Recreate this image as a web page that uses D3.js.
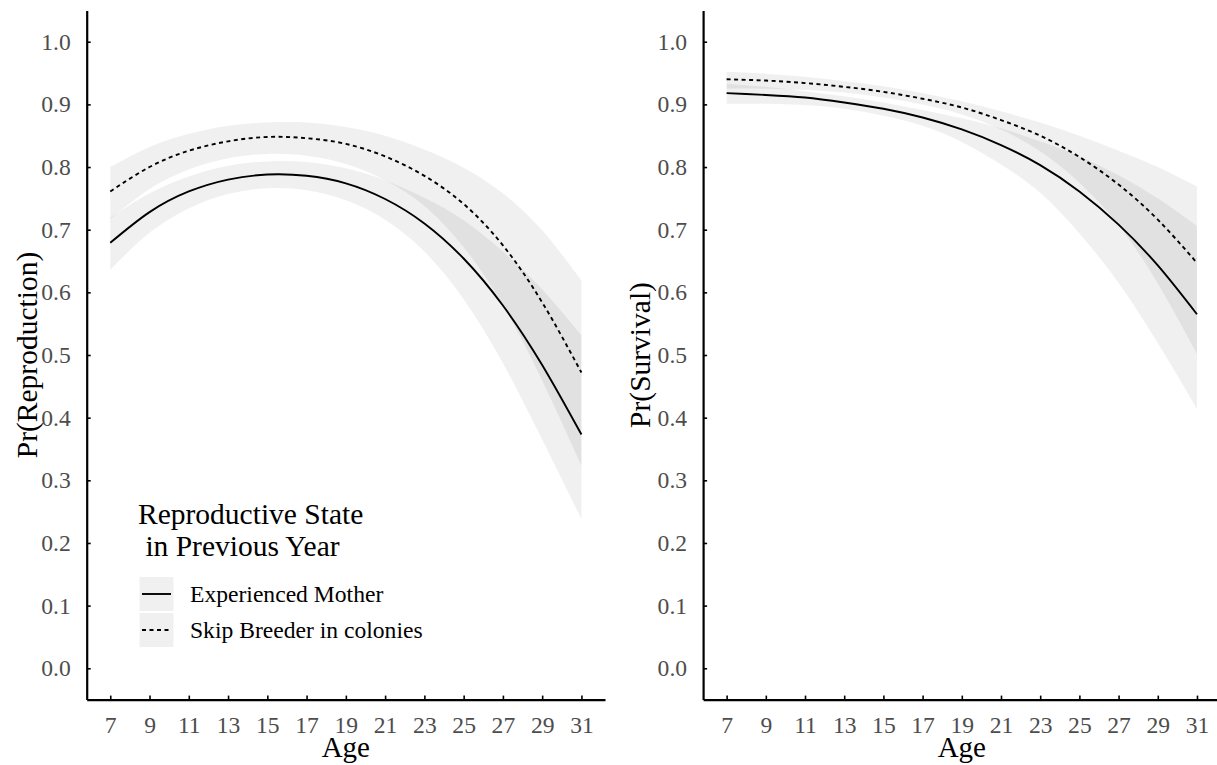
<!DOCTYPE html>
<html>
<head>
<meta charset="utf-8">
<script src="https://cdn.jsdelivr.net/npm/d3@7"></script>
<style>
  html, body { margin: 0; padding: 0; background: #ffffff; }
  svg { display: block; font-family: "Liberation Serif", "Times New Roman", serif; }
</style>
</head>
<body>
<svg id="chart" width="1217" height="765"></svg>
<script>
// ---------------- data ----------------
const ages = [7, 9, 11, 13, 15, 17, 19, 21, 23, 25, 27, 29, 31];
const xTicks = [7, 9, 11, 13, 15, 17, 19, 21, 23, 25, 27, 29, 31];
const yTicks = [0, 0.1, 0.2, 0.3, 0.4, 0.5, 0.6, 0.7, 0.8, 0.9, 1.0];
const seriesNames = ["Experienced Mother", "Skip Breeder in colonies"];
const legendTitle = ["Reproductive State", " in Previous Year"];

// Pr(Reproduction)
const reproExpFit  = [0.679, 0.728, 0.761, 0.780, 0.788, 0.786, 0.774, 0.749, 0.710, 0.654, 0.579, 0.484, 0.373];
const reproExpLo   = [0.636, 0.695, 0.734, 0.757, 0.766, 0.763, 0.747, 0.716, 0.665, 0.589, 0.487, 0.365, 0.238];
const reproExpHi   = [0.719, 0.758, 0.785, 0.802, 0.809, 0.808, 0.798, 0.779, 0.751, 0.715, 0.665, 0.605, 0.531];
const reproSkipFit = [0.761, 0.800, 0.826, 0.841, 0.848, 0.846, 0.837, 0.817, 0.786, 0.741, 0.675, 0.584, 0.472];
const reproSkipLo  = [0.717, 0.765, 0.796, 0.814, 0.821, 0.818, 0.805, 0.779, 0.738, 0.672, 0.580, 0.459, 0.323];
const reproSkipHi  = [0.800, 0.832, 0.853, 0.866, 0.871, 0.871, 0.864, 0.850, 0.828, 0.799, 0.758, 0.699, 0.619];

// Pr(Survival)
const survExpFit  = [0.918, 0.915, 0.911, 0.903, 0.893, 0.879, 0.860, 0.835, 0.803, 0.761, 0.708, 0.643, 0.565];
const survExpLo   = [0.901, 0.901, 0.899, 0.893, 0.882, 0.866, 0.840, 0.804, 0.759, 0.694, 0.615, 0.519, 0.414];
const survExpHi   = [0.933, 0.928, 0.921, 0.913, 0.903, 0.891, 0.878, 0.862, 0.841, 0.817, 0.787, 0.750, 0.706];
const survSkipFit = [0.940, 0.938, 0.934, 0.928, 0.920, 0.909, 0.895, 0.875, 0.850, 0.816, 0.772, 0.716, 0.647];
const survSkipLo  = [0.925, 0.925, 0.923, 0.919, 0.911, 0.900, 0.884, 0.860, 0.825, 0.775, 0.707, 0.614, 0.501];
const survSkipHi  = [0.952, 0.949, 0.944, 0.937, 0.929, 0.918, 0.905, 0.889, 0.871, 0.850, 0.826, 0.800, 0.769];

// ---------------- drawing ----------------
const svg = d3.select("#chart");
const ribbonFill = "rgba(0,0,0,0.06)";
const dashPattern = "4,3.5";

const panels = [
  { x0: 86.7, x1: 605.0, ylabel: "Pr(Reproduction)", titleOffset: 50,
    series: [
      { fit: reproExpFit, lo: reproExpLo, hi: reproExpHi, dash: null },
      { fit: reproSkipFit, lo: reproSkipLo, hi: reproSkipHi, dash: dashPattern }
    ], legend: true },
  { x0: 703.1, x1: 1220.5, ylabel: "Pr(Survival)", titleOffset: 53,
    series: [
      { fit: survExpFit, lo: survExpLo, hi: survExpHi, dash: null },
      { fit: survSkipFit, lo: survSkipLo, hi: survSkipHi, dash: dashPattern }
    ], legend: false }
];

const yTop = 10.4, yBot = 699.6;

panels.forEach(p => {
  const x = d3.scaleLinear().domain([5.8, 32.2]).range([p.x0, p.x1]);
  const y = d3.scaleLinear().domain([-0.05, 1.05]).range([yBot, yTop]);
  const g = svg.append("g");

  // ribbons
  p.series.forEach(s => {
    const area = d3.area()
      .x((d, i) => x(ages[i]))
      .y0((d, i) => y(s.lo[i]))
      .y1((d, i) => y(s.hi[i]))
      .curve(d3.curveNatural);
    g.append("path").datum(ages).attr("d", area)
      .attr("fill", ribbonFill).attr("stroke", "none");
  });
  // lines
  p.series.forEach(s => {
    const line = d3.line()
      .x((d, i) => x(ages[i]))
      .y((d, i) => y(s.fit[i]))
      .curve(d3.curveNatural);
    g.append("path").datum(ages).attr("d", line)
      .attr("fill", "none").attr("stroke", "#000")
      .attr("stroke-width", 1.9)
      .attr("stroke-dasharray", s.dash);
  });

  // axes
  const yAxis = d3.axisLeft(y).tickValues(yTicks).tickFormat(d3.format(".1f"))
    .tickSizeInner(-4).tickSizeOuter(0).tickPadding(16);
  const ya = svg.append("g").attr("transform", `translate(${p.x0},0)`).call(yAxis);
  const xAxis = d3.axisBottom(x).tickValues(xTicks).tickFormat(d3.format("d"))
    .tickSizeInner(-4).tickSizeOuter(0).tickPadding(17);
  const xa = svg.append("g").attr("transform", `translate(0,${yBot})`).call(xAxis);

  [ya, xa].forEach(a => {
    a.select(".domain").attr("stroke", "#000").attr("stroke-width", 2.2);
    a.selectAll(".tick line").attr("stroke", "#000").attr("stroke-width", 1.6);
    a.selectAll(".tick text").attr("fill", "#4d4d4d")
      .style("font-family", "'Liberation Serif', serif").style("font-size", "23.6px");
  });

  // axis titles
  svg.append("text")
    .attr("x", (p.x0 + p.x1) / 2).attr("y", 757)
    .attr("text-anchor", "middle").attr("fill", "#000")
    .style("font-size", "29px").text("Age");
  svg.append("text")
    .attr("transform", `translate(${p.x0 - p.titleOffset},${(yTop + yBot) / 2}) rotate(-90)`)
    .attr("text-anchor", "middle").attr("fill", "#000")
    .style("font-size", "29.5px").text(p.ylabel);

  // legend
  if (p.legend) {
    const lg = svg.append("g");
    lg.append("text").attr("x", 138).attr("y", 524).attr("fill", "#000")
      .style("font-size", "29.5px").text(legendTitle[0]);
    lg.append("text").attr("x", 138).attr("y", 556).attr("fill", "#000")
      .style("font-size", "29.5px").style("white-space", "pre")
      .attr("xml:space", "preserve").text(legendTitle[1]);
    seriesNames.forEach((name, i) => {
      const ky = 577 + i * 36;
      lg.append("rect").attr("x", 139.5).attr("y", ky).attr("width", 34).attr("height", 34)
        .attr("fill", ribbonFill);
      lg.append("line").attr("x1", 142).attr("x2", 171)
        .attr("y1", ky + 17).attr("y2", ky + 17)
        .attr("stroke", "#000").attr("stroke-width", 1.9)
        .attr("stroke-dasharray", p.series[i].dash);
      lg.append("text").attr("x", 190).attr("y", ky + 25).attr("fill", "#000")
        .style("font-size", "23.6px").text(name);
    });
  }
});
</script>
</body>
</html>
